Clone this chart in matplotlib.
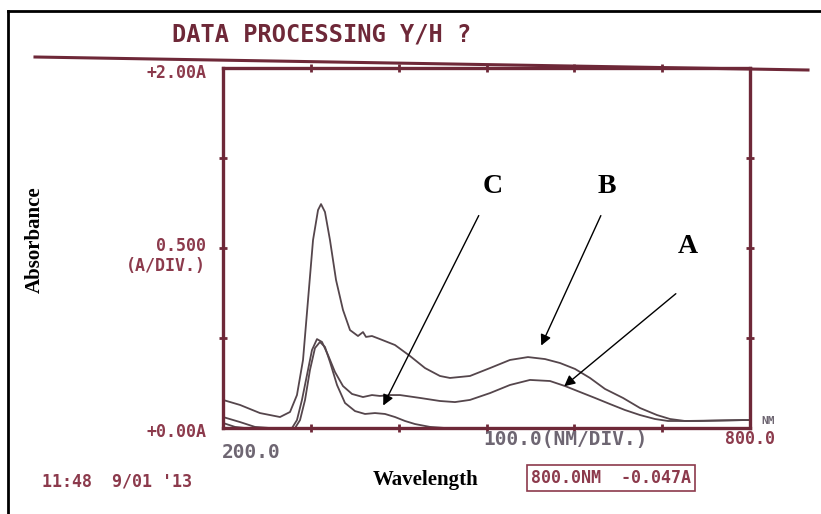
import matplotlib
matplotlib.use("Agg")
import matplotlib.pyplot as plt
from matplotlib.lines import Line2D
import numpy as np

# spectra (wavelength nm, absorbance A)
wl_b = [200, 219.4, 242.1, 264.9, 276.3, 284.2, 291.1, 296.8, 302.5, 308.2, 311.6,
        316.1, 321.8, 328.7, 336.6, 344.6, 353.7, 359.4, 362.8, 369.6, 378.7, 395.8,
        412.9, 430, 447, 458.4, 481.2, 504, 526.7, 547.2, 566.6, 583.7, 600.8, 617.8,
        634.9, 655.4, 674.8, 694.1, 708.9, 726, 743.1, 792, 800]
abs_b = [0.156, 0.128, 0.083, 0.061, 0.089, 0.183, 0.378, 0.711, 1.044, 1.211, 1.244,
         1.2, 1.044, 0.822, 0.656, 0.544, 0.511, 0.533, 0.506, 0.511, 0.494, 0.461,
         0.4, 0.333, 0.289, 0.278, 0.289, 0.333, 0.378, 0.394, 0.383, 0.361, 0.328, 0.278,
         0.217, 0.167, 0.111, 0.072, 0.05, 0.039, 0.039, 0.044, 0.044]

wl_a = [200, 219.4, 236.4, 253.5, 278.6, 284.2, 289.9, 295.6, 301.3, 307, 312.7,
        319.5, 327.5, 336.6, 346.9, 359.4, 369.6, 378.7, 390.1, 401.5, 424.3, 447,
        464.1, 481.2, 504, 526.7, 549.5, 572.3, 589.4, 606.4, 623.5, 640.6, 657.6,
        674.8, 691.8, 706.6, 726, 792, 800]
abs_a = [0.061, 0.033, 0.006, 0.0, 0.0, 0.044, 0.156, 0.294, 0.433, 0.494, 0.478,
         0.406, 0.311, 0.233, 0.189, 0.172, 0.183, 0.178, 0.183, 0.183, 0.167, 0.15,
         0.144, 0.156, 0.194, 0.239, 0.267, 0.261, 0.233, 0.2, 0.167, 0.133, 0.1,
         0.072, 0.05, 0.039, 0.039, 0.044, 0.044]

wl_c = [200, 213.7, 225, 282, 287.7, 293.4, 299, 304.7, 310.4, 316.1, 321.8, 329.8,
        338.9, 350.3, 361.7, 373, 384.4, 395.8, 407.2, 418.6, 435.7, 452.8, 800]
abs_c = [0.028, 0.006, 0.0, 0.0, 0.044, 0.156, 0.322, 0.444, 0.478, 0.45, 0.367, 0.239,
         0.139, 0.094, 0.078, 0.083, 0.078, 0.061, 0.039, 0.022, 0.006, 0.0, 0.0]

x_ticks = [300, 400, 500, 600, 700]
y_ticks = [0.5, 1.0, 1.5]

frame_col = "#6e2838"
print_col = "#8c3a4c"
gray_col = "#6e6672"
curve_col = "#55464c"

fig = plt.figure(figsize=(8.21, 5.14), dpi=100)
W, H = 821.0, 514.0


def fx(px):
    return px / W


def fy(py):
    return 1 - py / H


ax = fig.add_axes([fx(223), fy(428), fx(750) - fx(223), fy(68) - fy(428)])
ax.plot(wl_b, abs_b, color=curve_col, lw=1.3)
ax.plot(wl_a, abs_a, color=curve_col, lw=1.3)
ax.plot(wl_c, abs_c, color=curve_col, lw=1.3)
ax.set_xlim(200, 800)
ax.set_ylim(0, 2.0)
ax.set_xticks(x_ticks)
ax.set_yticks(y_ticks)
ax.tick_params(direction="inout", length=6, width=2, color=frame_col,
               labelbottom=False, labelleft=False, top=True, right=True)
for s in ax.spines.values():
    s.set_color(frame_col)
    s.set_linewidth(2.4)

# arrows with curve labels
arrow_kw = dict(arrowstyle="-|>", color="black", lw=1.0, mutation_scale=16)
ax.annotate("", xy=(381, 0.111), xytext=(492.6, 1.194), arrowprops=arrow_kw)
ax.annotate("", xy=(561, 0.444), xytext=(631.5, 1.194), arrowprops=arrow_kw)
ax.annotate("", xy=(586, 0.222), xytext=(718, 0.756), arrowprops=arrow_kw)
lab_kw = dict(fontsize=20, fontweight="bold", family="Liberation Serif",
              ha="center", va="center", color="black")
ax.text(507.4, 1.344, "C", **lab_kw)
ax.text(637.2, 1.344, "B", **lab_kw)
ax.text(729.4, 1.006, "A", **lab_kw)

# printer text
mono = dict(family="DejaVu Sans Mono", fontweight="bold")
fig.text(fx(322), fy(35), "DATA PROCESSING Y/H ?", fontsize=17, ha="center",
         va="center", color=frame_col, **mono)
fig.text(fx(206), fy(73), "+2.00A", fontsize=12, ha="right", va="center",
         color=print_col, **mono)
fig.text(fx(206), fy(246), "0.500", fontsize=12, ha="right", va="center",
         color=print_col, **mono)
fig.text(fx(206), fy(266), "(A/DIV.)", fontsize=12, ha="right", va="center",
         color=print_col, **mono)
fig.text(fx(206), fy(432), "+0.00A", fontsize=12, ha="right", va="center",
         color=print_col, **mono)
fig.text(fx(251), fy(452), "200.0", fontsize=14, ha="center", va="center",
         color=gray_col, **mono)
fig.text(fx(565), fy(440), "100.0(NM/DIV.)", fontsize=14, ha="center", va="center",
         color=gray_col, **mono)
fig.text(fx(768), fy(421), "NM", fontsize=8, ha="center", va="center",
         color=gray_col, **mono)
fig.text(fx(750), fy(439), "800.0", fontsize=12, ha="center", va="center",
         color=print_col, **mono)
fig.text(fx(117), fy(482), "11:48  9/01 '13", fontsize=12, ha="center", va="center",
         color=print_col, **mono)
fig.text(fx(611), fy(478), "800.0NM  -0.047A", fontsize=12, ha="center", va="center",
         color=print_col,
         bbox=dict(boxstyle="square,pad=0.25", fc="white", ec=print_col, lw=1.2), **mono)

# axis captions
fig.text(fx(35), fy(240), "Absorbance", fontsize=15, fontweight="bold",
         family="Liberation Serif", rotation=90, ha="center", va="center")
fig.text(fx(426), fy(480), "Wavelength", fontsize=15, fontweight="bold",
         family="Liberation Serif", ha="center", va="center")

# rule under title and page border
fig.add_artist(Line2D([fx(35), fx(808)], [fy(57), fy(70)], color=frame_col, lw=2.2))
fig.add_artist(Line2D([fx(8), fx(8)], [fy(11), 0], color="black", lw=2))
fig.add_artist(Line2D([fx(8), 1], [fy(11), fy(11)], color="black", lw=2))

fig.savefig("out.png", dpi=100)
